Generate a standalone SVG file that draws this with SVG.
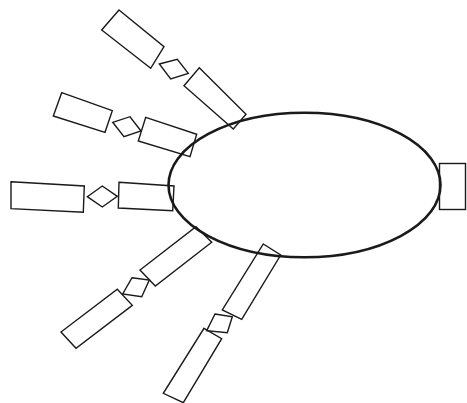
<svg xmlns="http://www.w3.org/2000/svg" width="467" height="403" viewBox="0 0 467 403">
<style>
.n{fill:none;stroke:#1a1a1a;stroke-width:1.4;stroke-linejoin:miter}
.e{fill:none;stroke:#1a1a1a;stroke-width:2.6}
</style>
<rect width="467" height="403" fill="#fff"/>
<g id="rectA"><polygon class="n" points="119,10 164,46.7 150.7,68.3 101.7,30"/></g>
<g id="diamondA"><polygon class="n" points="159.3,64 177.3,59.3 188.3,73.3 170.7,79"/></g>
<g id="rectB"><polygon class="n" points="199.3,67.7 246,114.3 233.3,129 184,85.7"/></g>
<g id="rectC"><polygon class="n" points="61.7,92.7 112.3,110.7 105,132.3 53.3,116"/></g>
<g id="diamondC"><polygon class="n" points="112.7,122.3 130,116.7 141,131 124,136.7"/></g>
<g id="rectD"><polygon class="n" points="145.7,117.3 196.7,134.3 190,156.7 138.3,141"/></g>
<g id="rectE"><polygon class="n" points="11,181.7 84.3,186 83.3,212.3 11,208.7"/></g>
<g id="diamondE"><polygon class="n" points="87.3,196.7 102.3,186 117.3,196.3 102.3,207"/></g>
<g id="rectF"><polygon class="n" points="119,182.3 174,186 172.7,210.7 118.3,208"/></g>
<g id="rectG"><polygon class="n" points="196,226.7 211.7,242.3 155.3,286 140,270"/></g>
<g id="diamondG"><polygon class="n" points="132,277.7 149.3,280 141.7,296.7 122.7,294"/></g>
<g id="rectH"><polygon class="n" points="117.3,289.3 132.3,305.3 76,348.3 61,332"/></g>
<g id="rectI"><polygon class="n" points="263.3,244 280.7,255 241.7,319.3 222.3,310"/></g>
<g id="diamondI"><polygon class="n" points="215,314 232.3,316.7 227.3,332.7 206.7,330.7"/></g>
<g id="rectJ"><polygon class="n" points="204,328.3 221.7,338.7 183.3,402.7 163.3,393.3"/></g>
<g id="rectK"><rect class="n" x="439.5" y="163.5" width="26" height="46"/></g>
<g id="ellipse"><ellipse class="e" cx="304.5" cy="185" rx="136" ry="72.2"/></g>
<g id="connectors"></g>
</svg>
